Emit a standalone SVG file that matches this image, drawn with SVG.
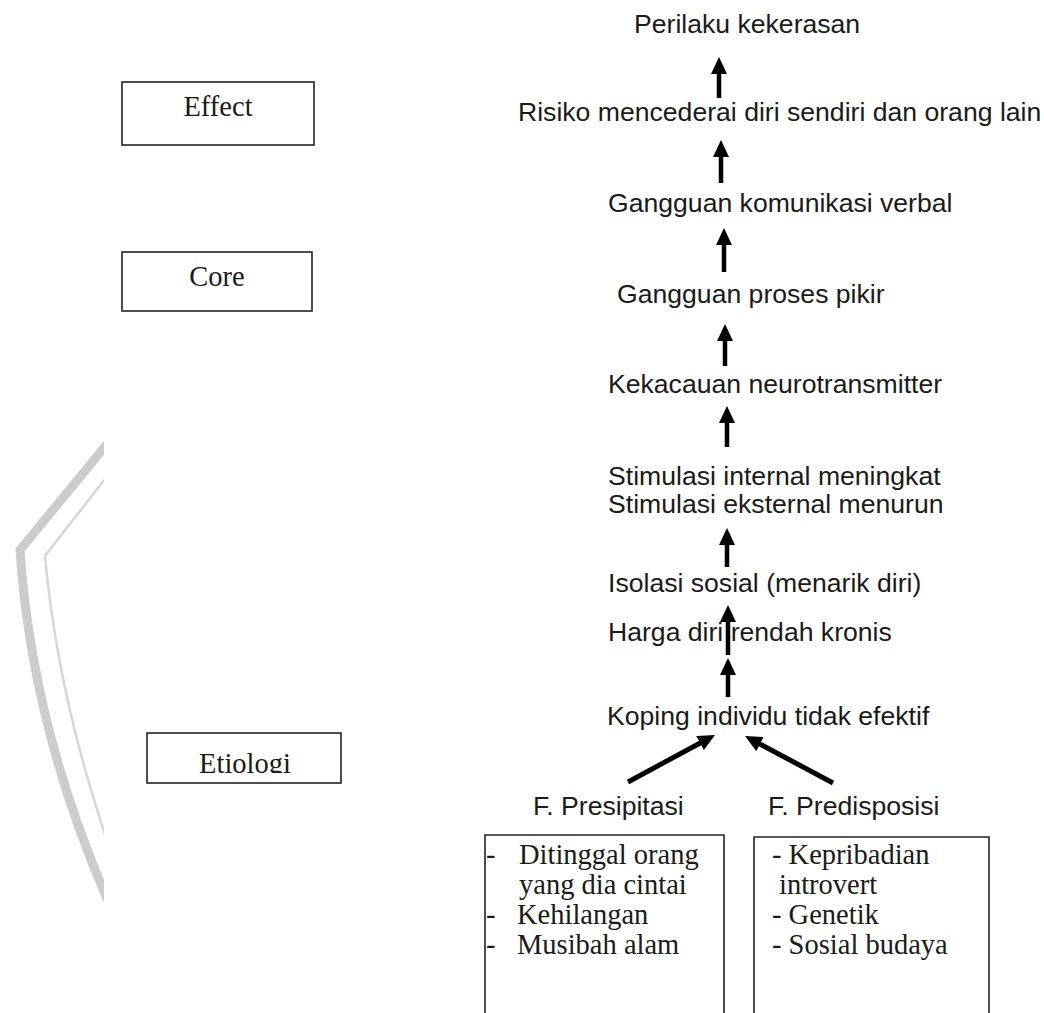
<svg xmlns="http://www.w3.org/2000/svg" width="1044" height="1013" viewBox="0 0 1044 1013">
<style>
.s{font-family:"Liberation Sans",Arial,sans-serif;font-size:26.6px;fill:#1a1a1a}
.r{font-family:"Liberation Serif","Times New Roman",serif;font-size:28.5px;fill:#1a1a1a}
.b{fill:#fff;stroke:#222;stroke-width:1.6}
.a{stroke:#000;stroke-width:4.5;fill:none;marker-end:url(#ah)}
.d{stroke:#000;stroke-width:5;fill:none;marker-end:url(#ah)}
</style>
<defs>
<marker id="ah" viewBox="0 0 17 16" refX="6" refY="8" markerWidth="17" markerHeight="16" orient="auto" markerUnits="userSpaceOnUse"><path d="M0,0 L17,8 L0,16 z" fill="#000"/></marker>
<clipPath id="wm"><rect x="0" y="0" width="104" height="1013"/></clipPath>
<clipPath id="et"><rect x="140" y="720" width="210" height="53"/></clipPath>
</defs>
<rect width="1044" height="1013" fill="#fff"/>
<g id="watermark" clip-path="url(#wm)" fill="none" stroke-linejoin="miter">
<path d="M112,438 L20,550 Q32,730 112,910" stroke="#cccccc" stroke-width="9"/>
<path d="M112,470 L45,556 Q58,700 112,855" stroke="#d6d6d6" stroke-width="2.5"/>
</g>
<g id="effect"><rect class="b" x="122" y="82" width="192" height="63"/><text class="r" x="218" y="116" text-anchor="middle">Effect</text></g>
<g id="core"><rect class="b" x="122" y="252" width="190" height="59"/><text class="r" x="217" y="286" text-anchor="middle">Core</text></g>
<g id="etiologi"><rect class="b" x="147" y="733" width="194" height="50"/><text class="r" x="245" y="773" text-anchor="middle" clip-path="url(#et)">Etiologi</text></g>
<g id="n1"><text class="s" x="634" y="33">Perilaku kekerasan</text></g>
<g id="n2"><text class="s" x="518" y="121">Risiko mencederai diri sendiri dan orang lain</text></g>
<g id="n3"><text class="s" x="608" y="212">Gangguan komunikasi verbal</text></g>
<g id="n4"><text class="s" x="617" y="303">Gangguan proses pikir</text></g>
<g id="n5"><text class="s" x="608" y="393">Kekacauan neurotransmitter</text></g>
<g id="n6"><text class="s" x="608" y="485">Stimulasi internal meningkat</text><text class="s" x="608" y="513">Stimulasi eksternal menurun</text></g>
<g id="n7"><text class="s" x="608" y="592">Isolasi sosial (menarik diri)</text></g>
<g id="n8"><text class="s" x="608" y="641">Harga diri rendah kronis</text></g>
<g id="n9"><text class="s" x="607" y="725">Koping individu tidak efektif</text></g>
<g id="n10"><text class="s" x="533" y="815">F. Presipitasi</text></g>
<g id="n11"><text class="s" x="768" y="815">F. Predisposisi</text></g>
<g id="box-presipitasi">
<path class="b" d="M485,1014 V835 H724 V1014"/>
<text class="r" x="486" y="864">-</text><text class="r" x="519" y="864">Ditinggal orang</text>
<text class="r" x="519" y="894">yang dia cintai</text>
<text class="r" x="486" y="924">-</text><text class="r" x="517" y="924">Kehilangan</text>
<text class="r" x="486" y="954">-</text><text class="r" x="517" y="954">Musibah alam</text>
</g>
<g id="box-predisposisi">
<path class="b" d="M754,1014 V837 H989 V1014"/>
<text class="r" x="772" y="864">- Kepribadian</text>
<text class="r" x="779" y="894">introvert</text>
<text class="r" x="772" y="924">- Genetik</text>
<text class="r" x="772" y="954">- Sosial budaya</text>
</g>
<g id="connectors">
<line class="a" x1="719" y1="98" x2="719" y2="68"/>
<line class="a" x1="721" y1="183" x2="721" y2="151"/>
<line class="a" x1="724" y1="272" x2="724" y2="239"/>
<line class="a" x1="725" y1="366" x2="725" y2="335"/>
<line class="a" x1="727" y1="447" x2="727" y2="417"/>
<line class="a" x1="727" y1="567" x2="727" y2="539"/>
<line class="a" x1="728" y1="655" x2="728" y2="616"/>
<line class="a" x1="728" y1="697" x2="728" y2="669"/>
<line class="d" x1="628" y1="782" x2="705.3" y2="740.2"/>
<line class="d" x1="833" y1="783" x2="754.7" y2="741.2"/>
</g>
</svg>
